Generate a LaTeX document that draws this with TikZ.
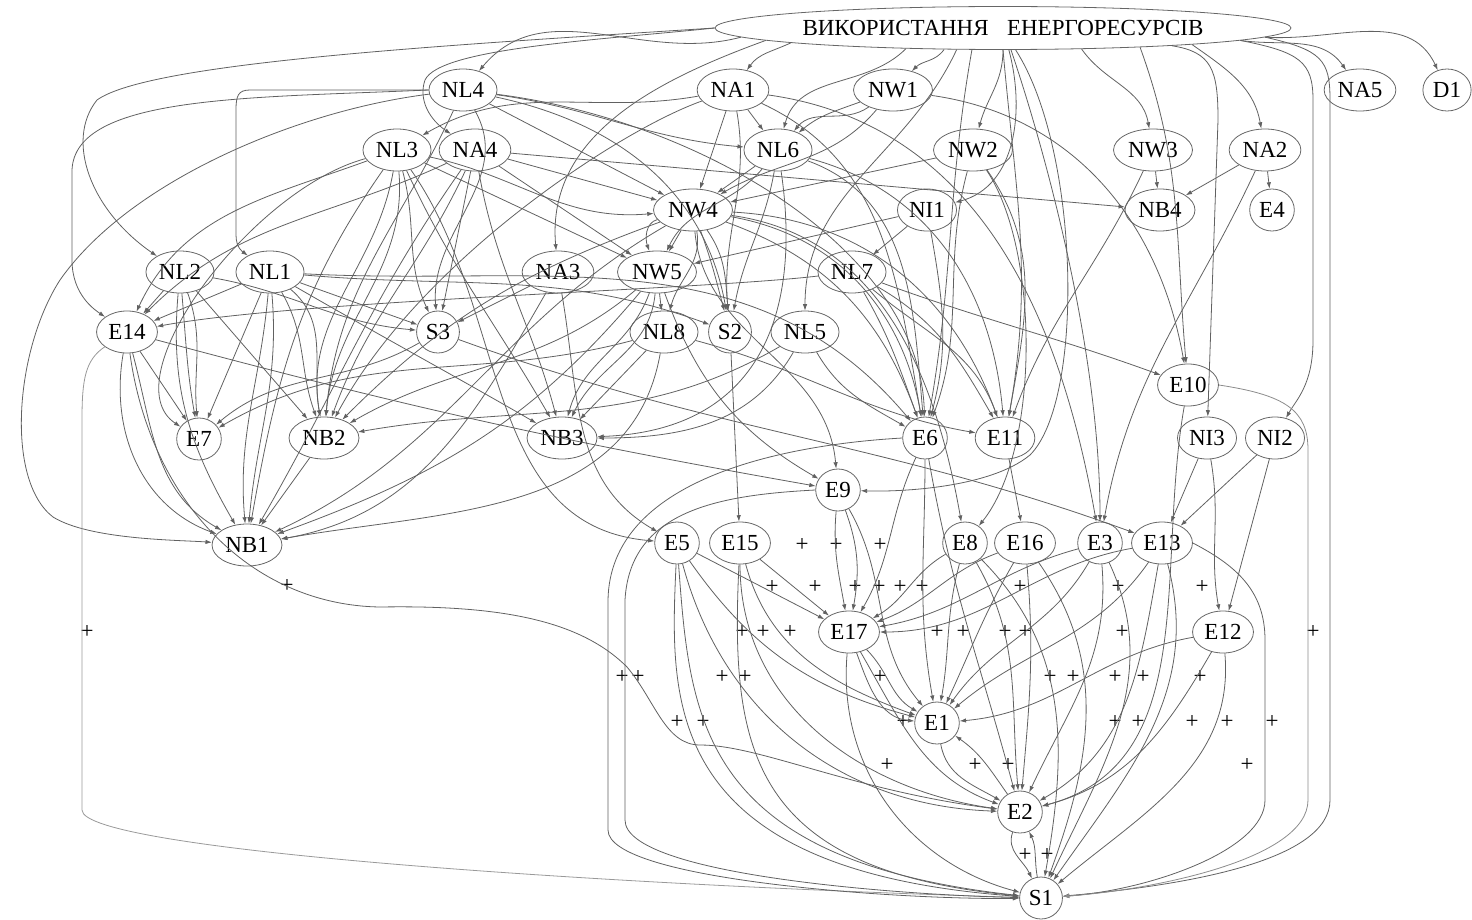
\documentclass[tikz,border=0pt]{standalone}
\usepackage{fontspec}
\setmainfont{Liberation Serif}
\usetikzlibrary{shapes.geometric,arrows.meta}
\begin{document}
\begin{tikzpicture}[x=0.5pt,y=0.5pt,
  nd/.style={ellipse,draw=black!60,line width=0.4pt,inner xsep=1.5pt,inner ysep=0pt,minimum height=21pt,font=\fontsize{11.5}{13}\selectfont},
  e/.style={draw=black!62,line width=0.4pt,-{Latex[length=3.2pt,width=2.2pt]}},
  pl/.style={font=\fontsize{11.5}{13}\selectfont,inner sep=0pt}]
\useasboundingbox (0,0) rectangle (1472,-920);
% nodes
\node[nd,minimum width=288pt,minimum height=21.5pt] (T) at (1003,-28) {ВИКОРИСТАННЯ\hspace{0.8em}ЕНЕРГОРЕСУРСІВ};
\node[nd] (NL4) at (463,-90) {NL4};
\node[nd] (NA1) at (733,-90) {NA1};
\node[nd] (NW1) at (893,-90) {NW1};
\node[nd] (NA5) at (1360,-90) {NA5};
\node[nd] (D1) at (1447,-90) {D1};
\node[nd] (NL3) at (397,-150) {NL3};
\node[nd] (NA4) at (475,-150) {NA4};
\node[nd] (NL6) at (778,-150) {NL6};
\node[nd] (NW2) at (973,-150) {NW2};
\node[nd] (NW3) at (1153,-150) {NW3};
\node[nd] (NA2) at (1265,-150) {NA2};
\node[nd] (NW4) at (693,-210) {NW4};
\node[nd] (NI1) at (927,-210) {NI1};
\node[nd] (NB4) at (1160,-210) {NB4};
\node[nd] (E4) at (1272,-210) {E4};
\node[nd] (NL2) at (180,-272) {NL2};
\node[nd] (NL1) at (270,-272) {NL1};
\node[nd] (NA3) at (558,-272) {NA3};
\node[nd] (NW5) at (657,-272) {NW5};
\node[nd] (NL7) at (852,-272) {NL7};
\node[nd] (E14) at (127,-332) {E14};
\node[nd] (S3) at (438,-332) {S3};
\node[nd] (NL8) at (664,-332) {NL8};
\node[nd] (S2) at (730,-332) {S2};
\node[nd] (NL5) at (805,-332) {NL5};
\node[nd] (E10) at (1188,-385) {E10};
\node[nd] (E7) at (199,-439) {E7};
\node[nd] (NB2) at (324,-438) {NB2};
\node[nd] (NB3) at (562,-438) {NB3};
\node[nd] (E6) at (925,-438) {E6};
\node[nd] (E11) at (1005,-438) {E11};
\node[nd] (NI3) at (1207,-438) {NI3};
\node[nd] (NI2) at (1275,-438) {NI2};
\node[nd] (E9) at (838,-490) {E9};
\node[nd] (NB1) at (247,-545) {NB1};
\node[nd] (E5) at (677,-543) {E5};
\node[nd] (E15) at (740,-543) {E15};
\node[nd] (E8) at (965,-543) {E8};
\node[nd] (E16) at (1025,-543) {E16};
\node[nd] (E3) at (1100,-543) {E3};
\node[nd] (E13) at (1162,-543) {E13};
\node[nd] (E17) at (849,-632) {E17};
\node[nd] (E12) at (1223,-632) {E12};
\node[nd] (E1) at (937,-723) {E1};
\node[nd] (E2) at (1020,-812) {E2};
\node[nd] (S1) at (1041,-898) {S1};
% plus labels
\foreach \x/\y [count=\i] in {287/586,87/632,802/545,836/545,880/545,
 772/587,815/587,855/587,879/587,900/587,922/587,1020/587,1118/587,1202/587,
 742/632,763/632,790/632,937/632,963/632,1005/632,1025/632,1122/632,1313/632,
 622/677,638/677,722/677,745/677,880/677,1050/677,1073/677,1115/677,1143/677,1200/677,
 677/722,703/722,903/722,1115/722,1138/722,1192/722,1227/722,1272/722,
 887/765,975/765,1008/765,1247/765,1025/855,1047/855}
 \node[pl] (p\i) at (\x,-\y) {+};
% ---- edges from T
\draw[e] (T.182) to[out=195,in=50] (NL4);
\draw[e] (T.184) to[out=205,in=55] (NA1);
\draw[e] (T.200) to[out=235,in=45] (NW1);
\draw[e] (T.192) to[out=225,in=75] (NL6);
\draw[e] (T.south) to[out=-90,in=75] (NW2);
\draw[e] (T.285) to[out=-75,in=15] (NI1);
\draw[e] (T.345) to[out=-55,in=100] (NW3);
\draw[e] (T.355) to[out=-35,in=100] (NA2);
\draw[e] (T.357) to[out=-8,in=125] (NA5);
\draw[e] (T.358) to[out=-4,in=115] (D1);
\draw[e] (T.354) .. controls (1212,-52) and (1218,-70) .. (1218,-120) -- (NI3);
\draw[e] (T.357) .. controls (1300,-52) and (1313,-62) .. (1313,-100) -- (1313,-340) .. controls (1313,-385) and (1296,-400) .. (NI2);
\draw[e] (T.358) .. controls (1322,-50) and (1330,-60) .. (1330,-100) -- (1330,-800) .. controls (1330,-860) and (1190,-885) .. (S1);
\draw[e] (T.352) to[out=-70,in=95] (E10);
\draw[e] (T.183) to[out=200,in=95] (NA3);
\draw[e] (T.205) to[out=-115,in=90] (NL5);
\draw[e] (T.west) .. controls (600,-40) and (440,-48) .. (425,-80) .. controls (418,-100) and (430,-120) .. (NA4);
\draw[e] (T.west) .. controls (450,-45) and (150,-62) .. (97,-100) .. controls (65,-140) and (90,-210) .. (NL2);
\draw[e] (T.290) .. controls (1045,-150) and (1100,-350) .. (E3);
\draw[e] (T.south) to[out=-85,in=80] (E11);
\draw[e] (T.300) .. controls (1080,-150) and (1085,-400) .. (1030,-455) .. controls (990,-488) and (900,-492) .. (E9);
\draw[e] (T.215) to[out=-100,in=80] (E6);
% ---- NL4
\draw[e] (NL4.west) -- (250,-90) .. controls (238,-90) and (236,-96) .. (236,-110) -- (236,-235) .. controls (236,-248) and (243,-252) .. (NL1);
\draw[e] (NL4.west) .. controls (250,-98) and (75,-95) .. (72,-170) -- (72,-260) .. controls (72,-295) and (95,-310) .. (E14);
\draw[e] (NL4) .. controls (300,-110) and (130,-180) .. (60,-280) .. controls (15,-350) and (5,-480) .. (53,-517) .. controls (90,-540) and (180,-540) .. (NB1);
\draw[e] (NL4) -- (NW4);
\draw[e] (NL4) to[out=-8,in=175] (NL6);
\draw[e] (NL4) to[out=-60,in=95] (S3);
\draw[e] (NL4) to[out=-115,in=85] (NB2);
\draw[e] (NL4) to[out=-12,in=100] (S2);
\draw[e] (NL4) .. controls (700,-120) and (920,-250) .. (E6);
% ---- NA1
\draw[e] (NA1) -- (NL6);
\draw[e] (NA1) -- (NW4);
\draw[e] (NA1) to[out=-80,in=95] (S2);
\draw[e] (NA1) to[out=190,in=30] (NL3);
\draw[e] (NA1) .. controls (620,-130) and (420,-260) .. (NB2);
\draw[e] (NA1) to[out=-25,in=100] (E6);
\draw[e] (NA1) to[out=-8,in=100] (E3);
% ---- NW1
\draw[e] (NW1) to[out=200,in=40] (NL6);
\draw[e] (NW1) to[out=215,in=50] (NL6);
\draw[e] (NW1) to[out=230,in=30] (NW4);
\draw[e] (NW1) to[out=-8,in=100] (E10);
% ---- NL3
\draw[e] (NL3) to[out=-12,in=185] (NW4);
\draw[e] (NL3) -- (NW5);
\draw[e] (NL3) to[out=-75,in=115] (S3);
\draw[e] (NL3) to[out=-100,in=100] (NB2);
\draw[e] (NL3) to[out=-85,in=85] (NB2);
\draw[e] (NL3) to[out=-65,in=120] (NB3);
\draw[e] (NL3) to[out=-125,in=80] (NB1);
\draw[e] (NL3) .. controls (250,-190) and (110,-380) .. (E7);
\draw[e] (NL3) to[out=-55,in=175] (E5);
\draw[e] (NL3) to[out=200,in=65] (E14);
% ---- NA4
\draw[e] (NA4) -- (NW4);
\draw[e] (NA4) -- (NW5);
\draw[e] (NA4) -- (S3);
\draw[e] (NA4) to[out=-115,in=70] (NB2);
\draw[e] (NA4) to[out=-80,in=105] (NB3);
\draw[e] (NA4) to[out=-125,in=60] (NB1);
\draw[e] (NA4) to[out=205,in=45] (E14);
\draw[e] (NA4) to[out=-5,in=175] (NB4);
% ---- NL6
\draw[e] (NL6) -- (NW4);
\draw[e] (NL6) to[out=-130,in=65] (NW5);
\draw[e] (NL6) to[out=-100,in=80] (S2);
\draw[e] (NL6) .. controls (800,-300) and (770,-430) .. (NB3);
\draw[e] (NL6) to[out=-20,in=95] (E6);
\draw[e] (NL6) to[out=-15,in=95] (E11);
% ---- NW2, NW3, NA2
\draw[e] (NW2) -- (NW4);
\draw[e] (NW2) to[out=-55,in=80] (E11);
\draw[e] (NW2) .. controls (1040,-250) and (1040,-450) .. (E8);
\draw[e] (NW2) to[out=-105,in=70] (E6);
\draw[e] (NW3) -- (NB4);
\draw[e] (NW3) to[out=-115,in=70] (E11);
\draw[e] (NA2) -- (NB4);
\draw[e] (NA2) -- (E4);
\draw[e] (NA2) to[out=-115,in=80] (E3);
% ---- NW4
\draw[e] (NW4) -- (NW5);
\draw[e] (NW4) to[out=195,in=110] (NW5);
\draw[e] (NW4) to[out=-80,in=75] (NL8);
\draw[e] (NW4) to[out=-70,in=105] (S2);
\draw[e] (NW4) to[out=-55,in=95] (S2);
\draw[e] (NW4) to[out=-20,in=110] (E6);
\draw[e] (NW4) to[out=-10,in=100] (E6);
\draw[e] (NW4) to[out=-3,in=110] (E11);
\draw[e] (NW4) to[out=-85,in=95] (E9);
\draw[e] (NW4) to[out=-8,in=100] (E8);
\draw[e] (NW4) to[out=200,in=45] (NB2);
\draw[e] (NW4) to[out=210,in=25] (NB1);
% ---- NI1
\draw[e] (NI1) -- (NL7);
\draw[e] (NI1) -- (NW5);
\draw[e] (NI1) to[out=-80,in=75] (E6);
% ---- NL2
\draw[e] (NL2) -- (E14);
\draw[e] (NL2) to[out=-10,in=175] (S3);
\draw[e] (NL2) to[out=-85,in=100] (E7);
\draw[e] (NL2) to[out=-70,in=95] (E7);
\draw[e] (NL2) -- (NB2);
\draw[e] (NL2) to[out=-95,in=120] (NB1);
% ---- NL1
\draw[e] (NL1) -- (E14);
\draw[e] (NL1) -- (S3);
\draw[e] (NL1) to[out=-5,in=160] (S2);
\draw[e] (NL1) -- (E7);
\draw[e] (NL1) to[out=-60,in=110] (NB2);
\draw[e] (NL1) to[out=-40,in=100] (NB2);
\draw[e] (NL1) to[out=-95,in=95] (NB1);
\draw[e] (NL1) to[out=-85,in=85] (NB1);
\draw[e] (NL1) to[out=-30,in=150] (NB3);
\draw[e] (NL1) to[out=-3,in=130] (E6);
% ---- NA3, NW5
\draw[e] (NA3) -- (S3);
\draw[e] (NA3) to[out=-120,in=10] (NB1);
\draw[e] (NA3) to[out=-80,in=150] (E5);
\draw[e] (NW5) -- (NL8);
\draw[e] (NW5) to[out=-110,in=75] (NB3);
\draw[e] (NW5) to[out=-95,in=65] (NB3);
\draw[e] (NW5) to[out=-70,in=150] (E9);
\draw[e] (NW5) to[out=-130,in=20] (NB1);
\draw[e] (NW5) to[out=-140,in=30] (NB2);
% ---- NL7
\draw[e] (NL7) .. controls (700,-290) and (300,-300) .. (E14);
\draw[e] (NL7) to[out=-20,in=160] (E10);
\draw[e] (NL7) to[out=-60,in=110] (E6);
\draw[e] (NL7) to[out=-40,in=110] (E11);
\draw[e] (NL7) to[out=-30,in=120] (E11);
% ---- S3, NL8, S2, NL5
\draw[e] (S3) to[out=-20,in=160] (E13);
\draw[e] (S3) to[out=-150,in=40] (E7);
\draw[e] (NL8) to[out=195,in=30] (E7);
\draw[e] (NL8) -- (NB3);
\draw[e] (NL8) to[out=-100,in=10] (NB1);
\draw[e] (NL8) to[out=-15,in=170] (E11);
\draw[e] (S2) -- (E15);
\draw[e] (NL5) to[out=-60,in=150] (E6);
\draw[e] (NL5) to[out=-150,in=10] (NB2);
\draw[e] (NL5) to[out=-120,in=0] (NB3);
% ---- E14, NB2
\draw[e] (E14) -- (E7);
\draw[e] (E14) to[out=-75,in=150] (NB1);
\draw[e] (E14) to[out=-100,in=160] (NB1);
\draw[e] (E14) to[out=-15,in=170] (E9);
\draw[e,draw=black!40] (E14) .. controls (85,-360) and (82,-380) .. (82,-420) -- (82,-810) .. controls (82,-850) and (600,-885) .. (S1);
\draw[e] (E14) .. controls (150,-500) and (250,-605) .. (380,-607) .. controls (500,-605) and (580,-620) .. (627,-667) .. controls (655,-700) and (665,-745) .. (700,-745) .. controls (760,-745) and (850,-790) .. (E2);
\draw[e] (NB2) -- (NB1);
% ---- lower part
\draw[e] (E5) -- (E17);
\draw[e] (E5) to[out=-55,in=165] (E1);
\draw[e] (E5) to[out=-75,in=178] (E2);
\draw[e] (E5) .. controls (670,-700) and (660,-870) .. (S1);
\draw[e] (E5) .. controls (690,-720) and (700,-860) .. (S1);
\draw[e] (E15) -- (E17);
\draw[e] (E15) to[out=-75,in=160] (E1);
\draw[e] (E15) to[out=-90,in=172] (E2);
\draw[e] (E15) .. controls (730,-750) and (750,-870) .. (S1);
\draw[e] (E9) to[out=-95,in=100] (E17);
\draw[e] (E9) to[out=-70,in=80] (E17);
\draw[e] (E9) to[out=-60,in=130] (E1);
\draw[e] (E9.west) .. controls (720,-495) and (630,-510) .. (625,-600) -- (625,-820) .. controls (625,-875) and (900,-895) .. (S1);
\draw[e] (E6.west) .. controls (780,-445) and (610,-480) .. (608,-600) -- (608,-830) .. controls (608,-880) and (900,-900) .. (S1);
\draw[e] (E6) to[out=-115,in=60] (E17);
\draw[e] (E6) to[out=-90,in=100] (E1);
\draw[e] (E6) to[out=-80,in=105] (E2);
\draw[e] (E8) to[out=-150,in=30] (E17);
\draw[e] (E8) to[out=-105,in=80] (E1);
\draw[e] (E8) to[out=-60,in=95] (E2);
\draw[e] (E8) to[out=-45,in=80] (S1);
\draw[e] (E16) to[out=-160,in=20] (E17);
\draw[e] (E16) to[out=-120,in=65] (E1);
\draw[e] (E16) to[out=-85,in=85] (E2);
\draw[e] (E16) to[out=-55,in=70] (S1);
\draw[e] (E3) to[out=-165,in=10] (E17);
\draw[e] (E3) to[out=-120,in=55] (E1);
\draw[e] (E3) to[out=-85,in=65] (E2);
\draw[e] (E3) to[out=-65,in=65] (S1);
\draw[e] (E13) to[out=-170,in=0] (E17);
\draw[e] (E13) to[out=-125,in=40] (E1);
\draw[e] (E13) to[out=-100,in=30] (E2);
\draw[e] (E13) to[out=-75,in=55] (S1);
\draw[e] (E13.east) .. controls (1235,-565) and (1265,-590) .. (1265,-640) -- (1265,-800) .. controls (1265,-850) and (1150,-890) .. (S1);
\draw[e] (E12) to[out=190,in=5] (E1);
\draw[e] (E12) to[out=-120,in=15] (E2);
\draw[e] (E12) to[out=-85,in=40] (S1);
\draw[e] (E17) to[out=-70,in=175] (E1);
\draw[e] (E17) to[out=-45,in=150] (E1);
\draw[e] (E17) to[out=-60,in=160] (E2);
\draw[e] (E17) to[out=-95,in=165] (S1);
\draw[e] (E1) to[out=-80,in=150] (E2);
\draw[e] (E2) to[out=125,in=-35] (E1);
\draw[e] (E2) to[out=-110,in=115] (S1);
\draw[e] (S1) to[out=100,in=-65] (E2);
\draw[e,draw=black!45] (E10.east) .. controls (1285,-395) and (1308,-410) .. (1308,-450) -- (1308,-800) .. controls (1308,-860) and (1150,-890) .. (S1);
\draw[e] (E10) to[out=-100,in=15] (E2);
\draw[e] (NI3) -- (E13);
\draw[e] (NI2) -- (E13);
\draw[e] (NI3) to[out=-80,in=100] (E12);
\draw[e] (NI2) to[out=-105,in=75] (E12);
\draw[e] (E11) -- (E16);
\end{tikzpicture}
\end{document}
